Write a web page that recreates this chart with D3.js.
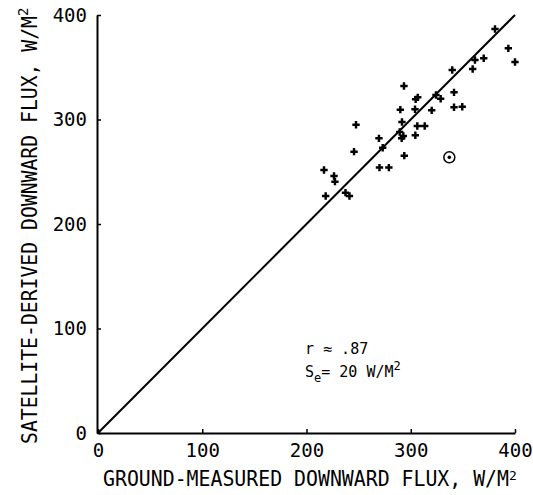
<!DOCTYPE html>
<html>
<head>
<meta charset="utf-8">
<script src="https://cdn.jsdelivr.net/npm/d3@7"></script>
<style>
  body { margin: 0; background: #fff; }
  svg text { font-family: "DejaVu Sans Mono", monospace; fill: #000; }
</style>
</head>
<body>
<div id="chart"></div>
<script>
// ground-measured vs satellite-derived downward flux, W/M^2
const groundFlux = [
  380.8, 370.0, 361.6, 359.4, 339.8, 341.5, 341.5, 349.4, 328.7, 324.2,
  293.5, 306.7, 304.7, 290.0, 304.1, 320.1, 291.6, 247.5, 306.3, 313.4,
  289.4, 292.9, 291.3, 269.5, 304.4, 245.6, 273.1, 293.8, 393.6, 400.0,
  216.8, 226.4, 227.3, 218.4, 237.4, 241.2, 270.0, 279.0
];
const satelliteFlux = [
  386.6, 358.6, 356.9, 348.3, 347.4, 326.0, 311.7, 312.2, 319.9, 323.4,
  332.1, 321.2, 319.3, 309.4, 309.8, 308.8, 297.6, 295.0, 293.8, 293.8,
  288.0, 284.2, 282.0, 282.0, 284.9, 269.2, 273.0, 265.4, 368.1, 355.0,
  251.7, 245.9, 240.5, 226.8, 230.0, 226.8, 254.0, 254.0
];
// the circled (excluded) observation
const outlierGround = [337.0];
const outlierSatellite = [263.8];
const tickValues = [0, 100, 200, 300, 400];

const width = 533, height = 495;
const svg = d3.select('#chart').append('svg')
    .attr('width', width)
    .attr('height', height);

const x = d3.scaleLinear().domain([0, 400]).range([98, 515]);
const y = d3.scaleLinear().domain([0, 400]).range([433, 15]);

// axes (ticks point inward)
const xAxis = svg.append('g')
    .attr('transform', `translate(0, ${y(0)})`)
    .call(d3.axisBottom(x).tickValues(tickValues).tickSizeInner(-4).tickSizeOuter(0).tickPadding(9));

const yAxis = svg.append('g')
    .attr('transform', `translate(${x(0) - 1}, 0)`)
    .call(d3.axisLeft(y).tickValues(tickValues).tickSizeInner(-4).tickSizeOuter(0).tickPadding(10));

[xAxis, yAxis].forEach(g => {
    g.select('.domain').attr('stroke', '#000').attr('stroke-width', 2);
    g.selectAll('.tick line').attr('stroke', '#000').attr('stroke-width', 1.5);
    g.selectAll('.tick text')
        .style('font-size', '19px')
        .style('font-family', '"DejaVu Sans Mono", monospace')
        .attr('fill', '#000');
});
xAxis.selectAll('.tick text').attr('dy', '0.8em');

// 1:1 line
svg.append('line')
    .attr('x1', x(0)).attr('y1', y(0))
    .attr('x2', x(400)).attr('y2', y(400))
    .attr('stroke', '#000')
    .attr('stroke-width', 2);

// points
const cross = d3.symbol().type(d3.symbolCross).size(30);
svg.append('g').selectAll('path')
    .data(groundFlux.map((g, i) => [g, satelliteFlux[i]]))
    .enter()
    .append('path')
    .attr('d', cross)
    .attr('transform', d => `translate(${x(d[0])}, ${y(d[1])})`)
    .attr('fill', '#000');

const outliers = svg.append('g').selectAll('g')
    .data(outlierGround.map((g, i) => [g, outlierSatellite[i]]))
    .enter()
    .append('g')
    .attr('transform', d => `translate(${x(d[0])}, ${y(d[1])})`);
outliers.append('circle')
    .attr('r', 5.5)
    .attr('fill', 'none')
    .attr('stroke', '#000')
    .attr('stroke-width', 1.5);
outliers.append('circle')
    .attr('r', 1.8)
    .attr('fill', '#000');

// axis titles
const xTitle = svg.append('text')
    .attr('x', 103)
    .attr('y', 486)
    .style('font-size', '20.5px');
xTitle.append('tspan')
    .attr('textLength', 406)
    .attr('lengthAdjust', 'spacingAndGlyphs')
    .text('GROUND-MEASURED DOWNWARD FLUX, W/M');
xTitle.append('tspan').attr('dy', -6).style('font-size', '13px').text('2');

const yTitle = svg.append('text')
    .attr('transform', 'translate(37, 444) rotate(-90)')
    .style('font-size', '20.5px');
yTitle.append('tspan')
    .attr('textLength', 428)
    .attr('lengthAdjust', 'spacingAndGlyphs')
    .text('SATELLITE-DERIVED DOWNWARD FLUX, W/M');
yTitle.append('tspan').attr('dy', -9).style('font-size', '14px').text('2');

// statistics annotation
svg.append('text')
    .attr('x', 305)
    .attr('y', 354)
    .style('font-size', '15px')
    .text('r ≈ .87');

const se = svg.append('text')
    .attr('x', 305)
    .attr('y', 377)
    .style('font-size', '15px');
se.append('tspan').text('S');
se.append('tspan').attr('dy', 5).style('font-size', '12px').text('e');
se.append('tspan').attr('dy', -5).text('= 20 W/M');
se.append('tspan').attr('dy', -7).style('font-size', '12px').text('2');
</script>
</body>
</html>
